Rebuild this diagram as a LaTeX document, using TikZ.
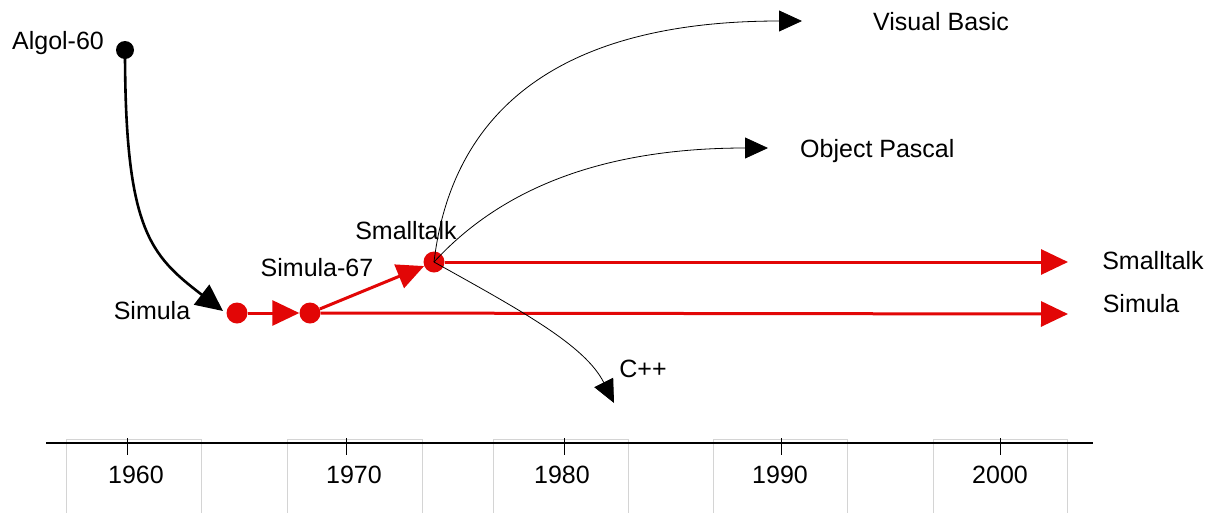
\documentclass[tikz,border=0pt]{standalone}
\usepackage{fontspec}
\setmainfont{Liberation Sans}
\usetikzlibrary{arrows.meta}
\definecolor{tlred}{RGB}{226,6,6}
\definecolor{boxgrey}{RGB}{212,212,212}
\begin{document}
\begin{tikzpicture}[x=1pt,y=-1pt,
  lbl/.style={font=\fontsize{25}{30}\selectfont, inner sep=0pt, anchor=base},
  reddot/.style={circle, fill=tlred, minimum size=21pt, inner sep=0pt},
  blackdot/.style={circle, fill=black, minimum size=18pt, inner sep=0pt},
  redarrow/.style={draw=tlred, line width=3pt, -{Triangle[length=27pt,width=25pt]}, tlred},
  thinarrow/.style={draw=black, line width=0.8pt, -{Triangle[length=23pt,width=21pt]}},
  thickarrow/.style={draw=black, line width=2.6pt, -{Triangle[length=27pt,width=25pt]}},
  yearbox/.style={draw=boxgrey, line width=0.8pt},
  tick/.style={draw=black, line width=1pt}
]
\useasboundingbox (0,0) rectangle (1210,512);

% year boxes
\foreach \l/\r in {66/201, 287/422, 493/628, 713/847, 933/1067}
  \draw[yearbox] (\l,515) -- (\l,439) -- (\r,439) -- (\r,515);

% axis
\coordinate (axl) at (46,443);
\coordinate (axr) at (1093,443);
\draw[line width=2.4pt] (axl) -- (axr);
\foreach \x in {127,346,564,781,1000}
  \draw[tick] (\x,438) -- (\x,455);

% year labels
\node[lbl] (y1960) at (136,483) {1960};
\node[lbl] (y1970) at (354,483) {1970};
\node[lbl] (y1980) at (562,483) {1980};
\node[lbl] (y1990) at (780,483) {1990};
\node[lbl] (y2000) at (1000,483) {2000};

% dots
\node[blackdot] (algol) at (125,50) {};
\node[reddot] (simula) at (237,313) {};
\node[reddot] (simula67) at (310,313) {};
\node[reddot] (smalltalk) at (434,262) {};

% end coordinates
\coordinate (vbEnd) at (802,21);
\coordinate (opEnd) at (768,148);
\coordinate (cppEnd) at (614,403);
\coordinate (stEnd) at (1068,262);
\coordinate (smEnd) at (1068,314);
\coordinate (alEnd) at (223,311);

% thick black arrow Algol -> Simula
\draw[thickarrow] (algol.center) .. controls (125,230) and (150,255) .. (alEnd);

% red arrows
\draw[redarrow] (simula) -- (simula67);
\draw[redarrow] (simula67) -- (smalltalk);
\draw[redarrow] (smalltalk) -- (stEnd);
\draw[redarrow] (simula67) -- (smEnd);

% thin arrows from Smalltalk
\draw[thinarrow] (smalltalk.center) .. controls (452,110) and (560,21) .. (vbEnd);
\draw[thinarrow] (smalltalk.center) .. controls (500,190) and (600,148) .. (opEnd);
\draw[thinarrow] (smalltalk.center) .. controls (520,310) and (585,345) .. (cppEnd);

% labels
\node[lbl] (lalgol) at (58,49) {Algol-60};
\node[lbl] (lsimula) at (152,319) {Simula};
\node[lbl] (lsimula67) at (317,276) {Simula-67};
\node[lbl] (lsmalltalk) at (406,239) {Smalltalk};
\node[lbl] (rsmalltalk) at (1153,269) {Smalltalk};
\node[lbl] (rsimula) at (1141,312) {Simula};
\node[lbl] (lvb) at (941,30) {Visual Basic};
\node[lbl, anchor=base west] (lop) at (800,157) {Object Pascal};
\node[lbl] (lcpp) at (643,377) {C++};
\end{tikzpicture}
\end{document}
